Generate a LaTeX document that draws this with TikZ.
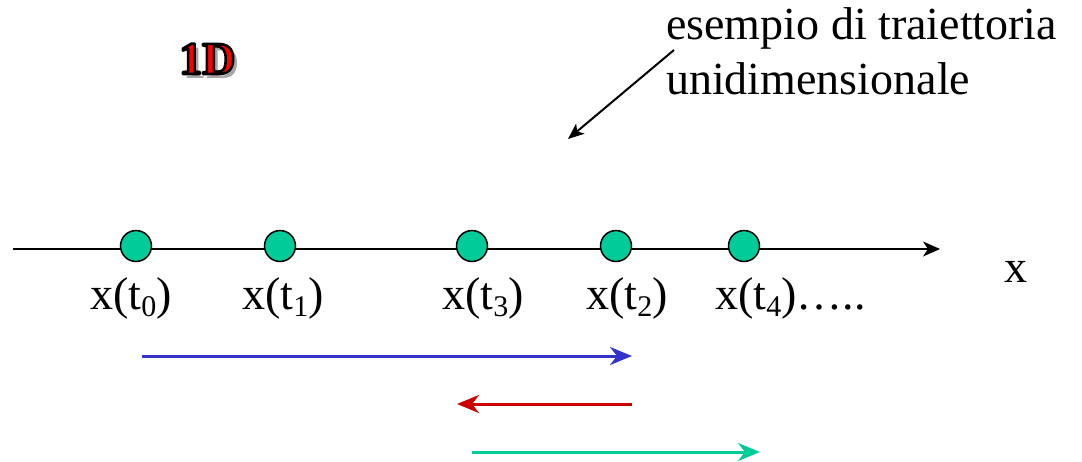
\documentclass[tikz,border=0pt]{standalone}
\usepackage{fontspec}
\setmainfont{Liberation Serif}
\usetikzlibrary{arrows.meta}
\definecolor{dotgreen}{RGB}{0,204,153}
\definecolor{arrblue}{RGB}{51,51,204}
\definecolor{arrred}{RGB}{204,0,0}
\newcommand\lowsub[1]{\raisebox{-7pt}{\fontsize{30}{30}\selectfont #1}}
\newcommand\outlinedtext[1]{{\color{red}\special{pdf:literal direct 0 0 0 RG 2.6 w 1 j 2 Tr}#1\special{pdf:literal direct 0 Tr}}}
\begin{document}
\begin{tikzpicture}[x=1pt,y=-1pt,
  dot/.style={circle,draw=black,line width=1.5pt,fill=dotgreen,minimum size=31pt,inner sep=0pt},
  lbl/.style={anchor=base west,inner sep=0pt,font=\fontsize{46}{46}\selectfont},
  colarrow/.style={line width=3pt,-{Stealth[length=22pt,width=18pt,inset=7pt]}},
  oneD/.style={inner sep=0pt,anchor=base west,font=\fontsize{46}{46}\selectfont\bfseries}
]
\useasboundingbox (0,0) rectangle (1082,461);
% axis
\coordinate (axs) at (13,249);
\coordinate (axe) at (940,249);
\draw[line width=2pt,-{Stealth[length=17pt,width=15pt,inset=5pt]}] (axs) -- (axe);
\node[inner sep=0pt,anchor=base] (xl) at (1016,282) {\fontsize{46}{46}\selectfont x};
% dots
\node[dot] (d0) at (136,246) {};
\node[dot] (d1) at (280,246) {};
\node[dot] (d3) at (472,246) {};
\node[dot] (d2) at (616,246) {};
\node[dot] (d4) at (744,246) {};
% labels
\node[lbl] (l0) at (90,309) {x(t\lowsub{0})};
\node[lbl] (l1) at (242,309) {x(t\lowsub{1})};
\node[lbl] (l3) at (442,309) {x(t\lowsub{3})};
\node[lbl] (l2) at (586,309) {x(t\lowsub{2})};
\node[lbl] (l4) at (715,309) {x(t\lowsub{4})\dots..};
% 1D title with shadow and outline
\node[oneD,text=black!35] (shadow) at (183,78) {1D};
\node[oneD] (title) at (179,74) {\outlinedtext{1D}};
% annotation
\node[inner sep=0pt,anchor=north west,align=left,font=\fontsize{46}{55}\selectfont] (ann) at (666,7) {esempio di traiettoria\\unidimensionale};
\coordinate (annS) at (674,50);
\coordinate (annT) at (568,139);
\draw[line width=2pt,-{Stealth[length=16pt,width=13pt,inset=4pt]}] (annS) -- (annT);
% coloured displacement arrows
\coordinate (b1) at (142,356); \coordinate (b2) at (632,356);
\coordinate (r1) at (632,404); \coordinate (r2) at (457,404);
\coordinate (g1) at (472,452); \coordinate (g2) at (760,452);
\draw[colarrow,arrblue] (b1) -- (b2);
\draw[colarrow,arrred] (r1) -- (r2);
\draw[colarrow,dotgreen] (g1) -- (g2);
\end{tikzpicture}
\end{document}
